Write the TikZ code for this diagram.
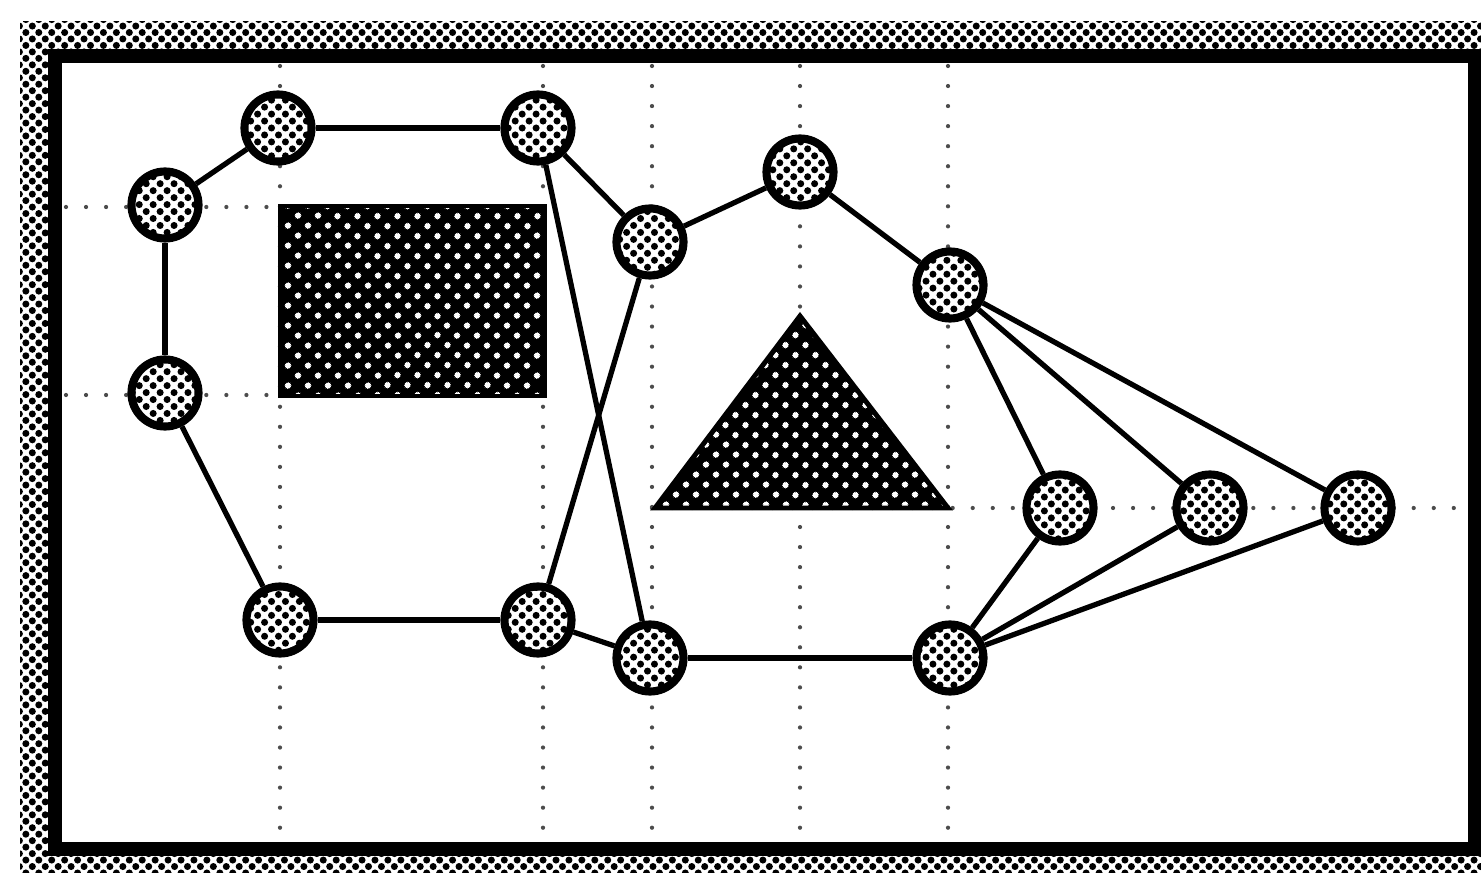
\documentclass[tikz,border=0pt]{standalone}
\usepackage{tikz}
\usetikzlibrary{patterns.meta}
\tikzset{
    mapnode/.style={circle, draw=black, line width=2.3pt, minimum size=6.7mm, inner sep=0pt, preaction={fill=white}, pattern={Dots[distance=2.8pt, angle=45, radius=1pt]}},
    maplink/.style={line width=1.5pt, draw=black},
    mapgrid/.style={line width=1.2pt, draw=black!70, line cap=round, dash pattern=on 0pt off 5.7pt},
    mapobstacle/.style={fill=black, postaction={pattern={Dots[distance=4pt, angle=45, radius=.9pt]}, pattern color=white}, postaction={draw=black, line width=1.4pt}},
    mapframe/.style={fill=white, draw=black, line width=4.2pt},
    mapband/.style={fill=white, postaction={pattern={Dots[distance=2.6pt, angle=45, radius=1pt]}}}
}

\begin{document}
\begin{tikzpicture}[x=0.01cm, y=-0.01cm]
    \useasboundingbox (0,0) rectangle (1481,873);

    % Border
    \path[mapband] (20,22) rectangle (1481,873);
    \filldraw[mapframe] (55,56) rectangle (1475,849);

    % Grid
    \foreach \gx in {280,543,652,800,948}
        \draw[mapgrid] (\gx,66) -- (\gx,840);
    \draw[mapgrid] (66,207) -- (280,207);
    \draw[mapgrid] (66,395) -- (280,395);
    \draw[mapgrid] (652,508) -- (1466,508);

    % Obstacles
    \path[mapobstacle] (280,206) rectangle (545,396);
    \path[mapobstacle] (655,508) -- (800,316) -- (948,508) -- cycle;

    % Waypoints
    \node[mapnode] (a) at (165,205) {};
    \node[mapnode] (b) at (278,128) {};
    \node[mapnode] (c) at (538,128) {};
    \node[mapnode] (d) at (650,242) {};
    \node[mapnode] (e) at (800,172) {};
    \node[mapnode] (f) at (950,285) {};
    \node[mapnode] (g) at (165,393) {};
    \node[mapnode] (h) at (280,620) {};
    \node[mapnode] (i) at (538,620) {};
    \node[mapnode] (j) at (650,658) {};
    \node[mapnode] (k) at (950,658) {};
    \node[mapnode] (l) at (1060,508) {};
    \node[mapnode] (m) at (1210,508) {};
    \node[mapnode] (n) at (1358,508) {};

    % Links
    \draw[maplink] (a) -- (b);
    \draw[maplink] (b) -- (c);
    \draw[maplink] (c) -- (d);
    \draw[maplink] (d) -- (e);
    \draw[maplink] (e) -- (f);
    \draw[maplink] (a) -- (g);
    \draw[maplink] (g) -- (h);
    \draw[maplink] (h) -- (i);
    \draw[maplink] (i) -- (j);
    \draw[maplink] (j) -- (k);
    \draw[maplink] (c) -- (j);
    \draw[maplink] (d) -- (i);
    \foreach \t in {l,m,n} {
        \draw[maplink] (f) -- (\t);
        \draw[maplink] (k) -- (\t);
    }
\end{tikzpicture}
\end{document}
